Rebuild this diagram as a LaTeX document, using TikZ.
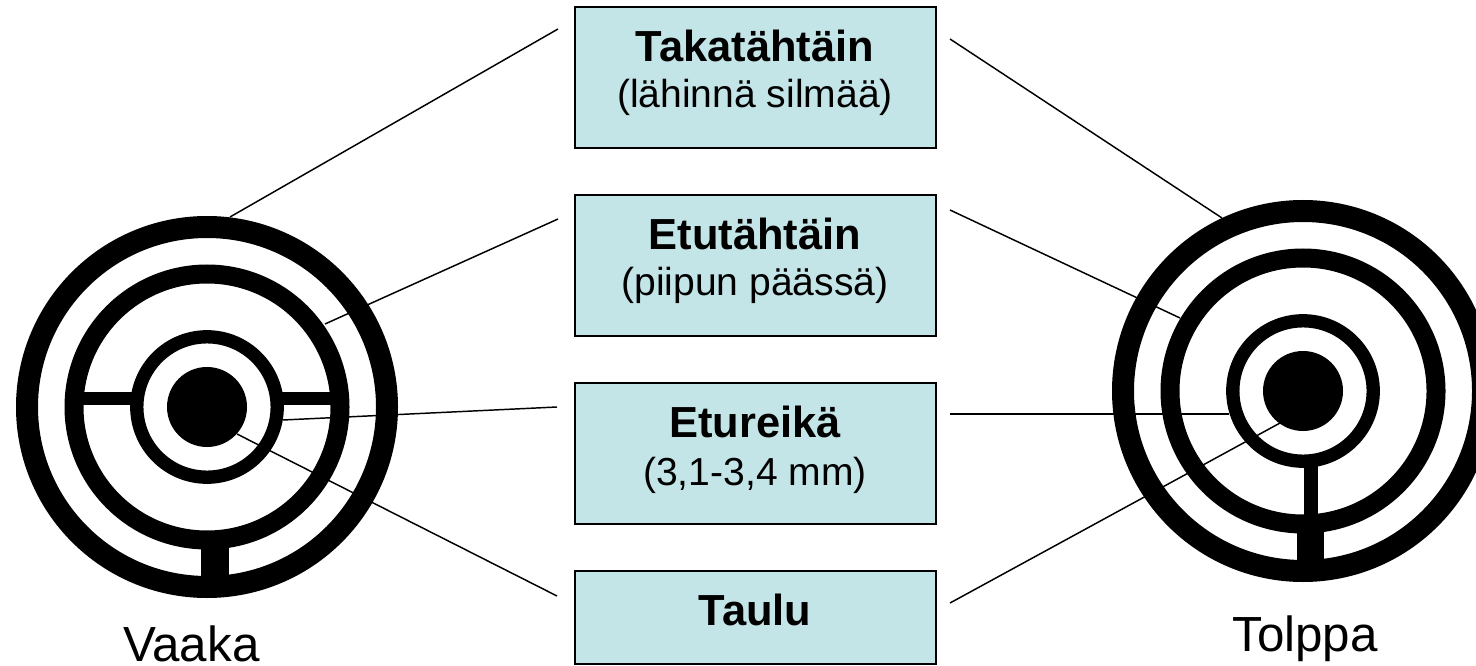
\documentclass[tikz,border=0pt]{standalone}
\usepackage{fontspec}
\setmainfont{Liberation Sans}
\definecolor{boxfill}{RGB}{196,229,232}
\tikzset{
  x=0.75pt,y=-0.75pt,
  infobox/.style={draw=black,line width=1.5pt,fill=boxfill,minimum width=270.75pt,inner sep=0pt,outer sep=0pt,anchor=north west},
  boxtext/.style={align=center,inner sep=0pt,anchor=base},
  head/.style={font=\fontsize{32.6}{36}\selectfont\bfseries},
  sub/.style={font=\fontsize{29.3}{33}\selectfont},
  sidecap/.style={font=\fontsize{37}{40}\selectfont,inner sep=0pt,anchor=base west},
  link/.style={draw=black,line width=1.1pt},
  ring/.style={draw=black,fill=none},
}
\newcommand{\target}[2]{%
  \begin{scope}[shift={(#1,#2)}]
    \draw[ring,line width=16.5pt] (0,0) circle[radius=180];
    \draw[ring,line width=14.25pt] (0,0) circle[radius=133];
    \draw[ring,line width=10pt] (0,0) circle[radius=70.2];
    \fill[black] (0,0) circle[radius=40];
  \end{scope}}
\begin{document}
\begin{tikzpicture}
\useasboundingbox (0,0) rectangle (1476,666);
\clip (0,0) rectangle (1476,666);
\fill[white] (0,0) rectangle (1476,666);
% connector ends
\coordinate (l1) at (230,217);
\coordinate (l2) at (325,324);
\coordinate (l3) at (283,420);
\coordinate (l4) at (237,434);
\coordinate (r1) at (1222,218);
\coordinate (r2) at (1180,318);
\coordinate (r3) at (1229,414);
\coordinate (r4) at (1280,423);
\coordinate (a1) at (558,29);
\coordinate (a2) at (558,219);
\coordinate (a3) at (557,407);
\coordinate (a4) at (557,596);
\coordinate (b1) at (950,39);
\coordinate (b2) at (950,210);
\coordinate (b3) at (950,414);
\coordinate (b4) at (950,603);
\draw[link] (a1)--(l1);
\draw[link] (a2)--(l2);
\draw[link] (a3)--(l3);
\draw[link] (a4)--(l4);
\draw[link] (b1)--(r1);
\draw[link] (b2)--(r2);
\draw[link] (b3)--(r3);
\draw[link] (b4)--(r4);
% left target
\target{207}{407}
\fill[black] (83,392) rectangle (132,405);
\fill[black] (282,392) rectangle (331,405);
\fill[black] (201,545) rectangle (229,590);
% right target
\target{1303}{391}
\fill[black] (1304,465) rectangle (1318,520);
\fill[black] (1297,525) rectangle (1324,575);
% boxes
\node[infobox,minimum height=105.75pt] (b-taka) at (575,7.5) {};
\node[infobox,minimum height=105.5pt] (b-etu) at (575,195.5) {};
\node[infobox,minimum height=105.5pt] (b-reika) at (575,383) {};
\node[infobox,minimum height=70.2pt] (b-taulu) at (575,570.7) {};
\node[boxtext,head] (t1) at (755,62) {Takatähtäin};
\node[boxtext,sub] (t1s) at (755,108) {(lähinnä silmää)};
\node[boxtext,head] (t2) at (755,250) {Etutähtäin};
\node[boxtext,sub] (t2s) at (755,296) {(piipun päässä)};
\node[boxtext,head] (t3) at (755,437) {Etureikä};
\node[boxtext,sub] (t3s) at (755,485) {(3,1-3,4 mm)};
\node[boxtext,head] (t4) at (755,625) {Taulu};
\node[sidecap] (vaaka) at (123,661.5) {Vaaka};
\node[sidecap] (tolppa) at (1232,651) {Tolppa};
\end{tikzpicture}
\end{document}
